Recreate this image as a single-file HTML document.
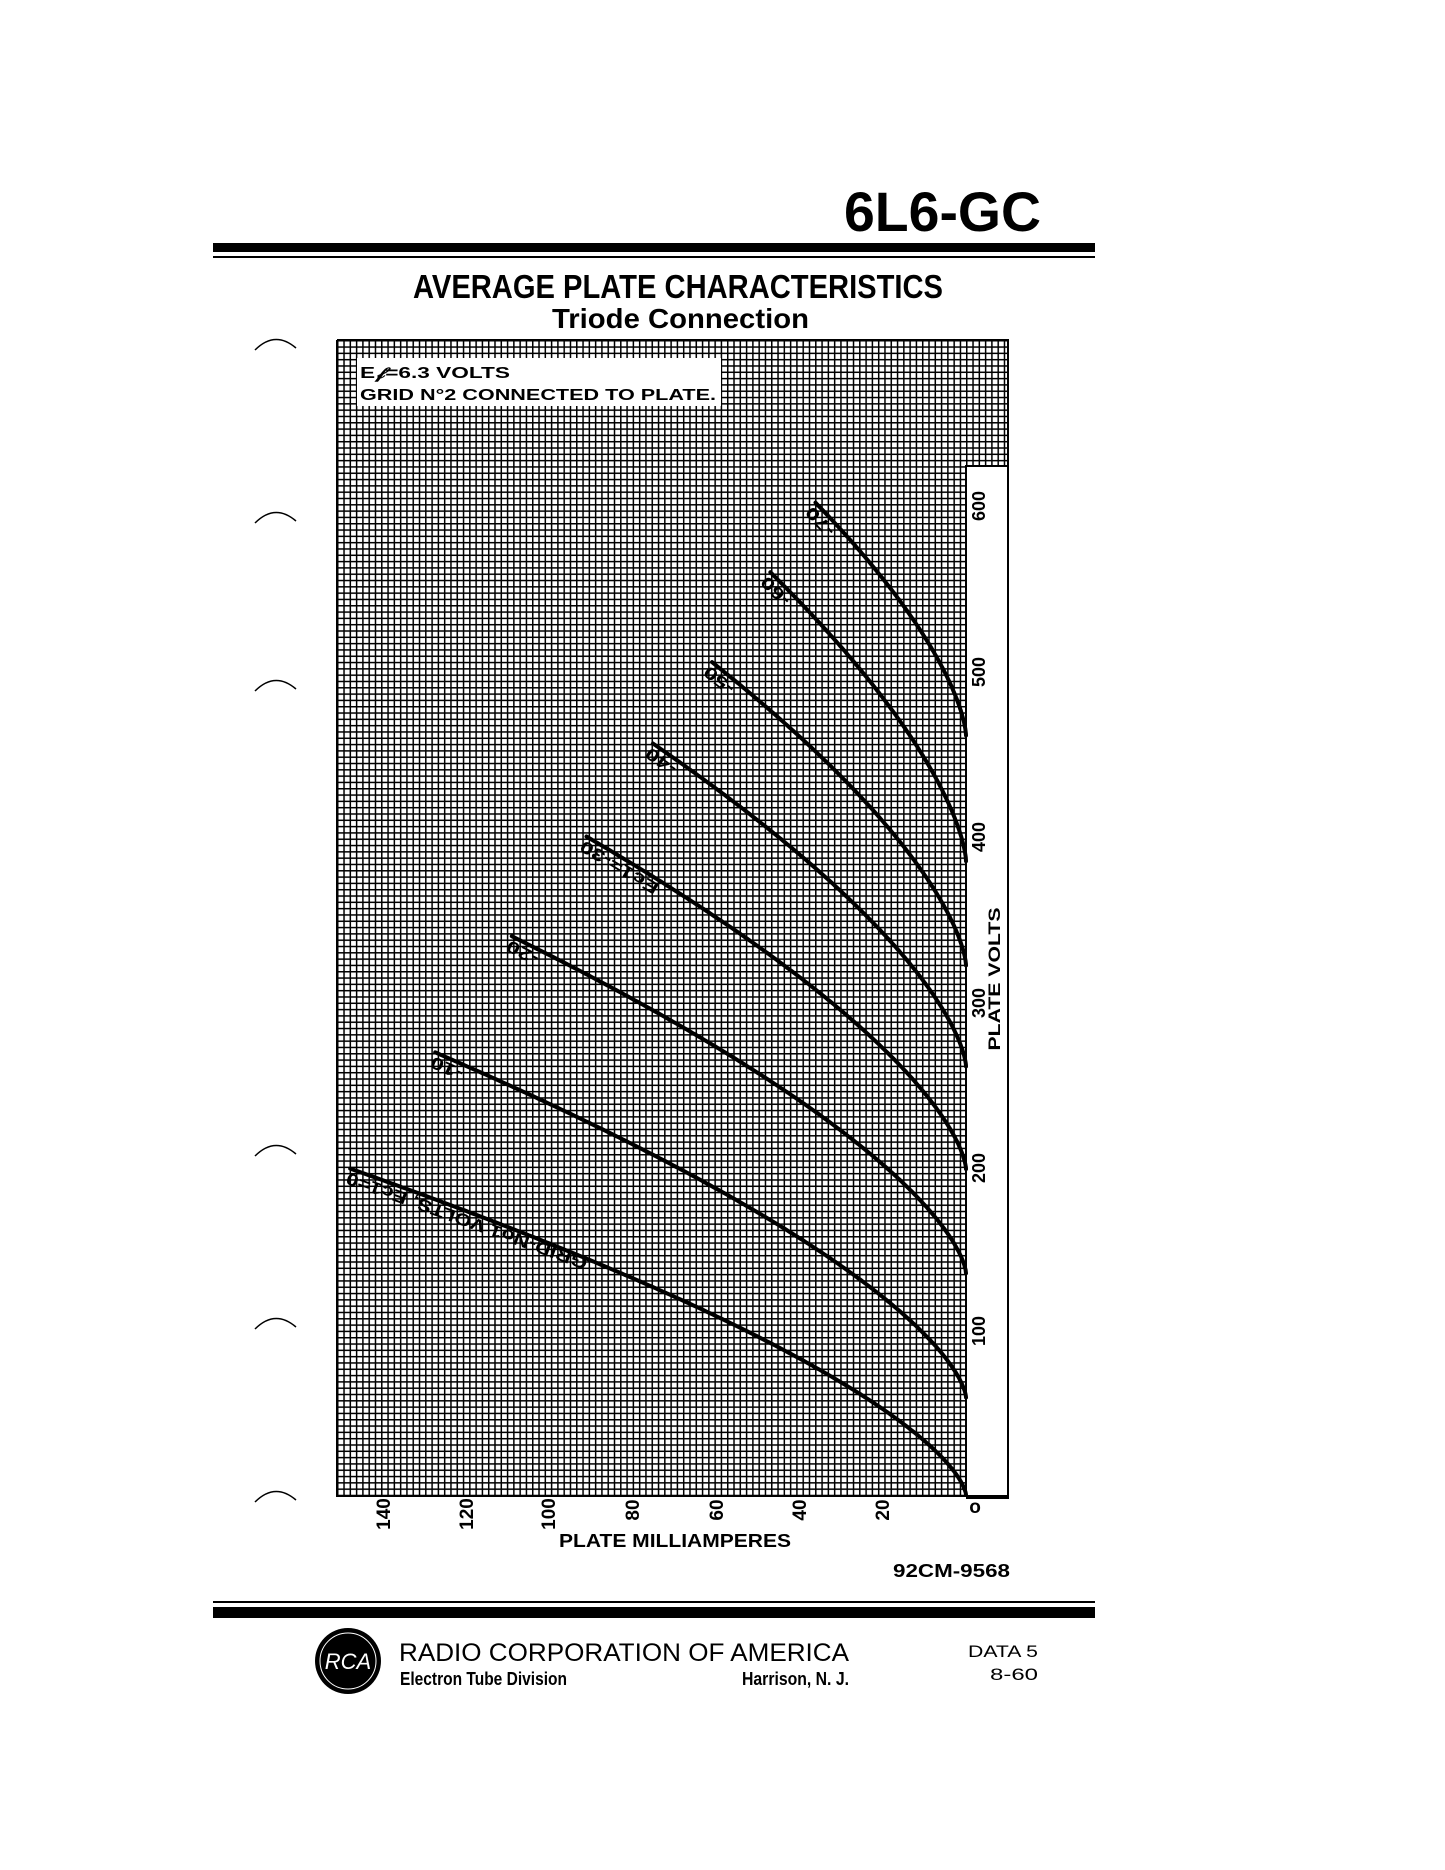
<!DOCTYPE html>
<html><head><meta charset="utf-8"><style>
html,body{margin:0;padding:0;background:#fff}
svg{display:block}
text{font-family:"Liberation Sans",sans-serif;fill:#000}
</style></head><body>
<svg id="s" width="1445" height="1870" viewBox="0 0 1445 1870" xmlns="http://www.w3.org/2000/svg">
<defs>
<pattern id="g" x="337" y="340" width="6.29" height="6.31" patternUnits="userSpaceOnUse">
<rect width="6.29" height="6.31" fill="#fff"/>
<rect x="0" y="0" width="1.5" height="6.31" fill="#000"/>
<rect x="0" y="0" width="6.29" height="1.5" fill="#000"/>
</pattern>
</defs>
<text x="844" y="231" font-size="56" font-weight="bold" textLength="197" lengthAdjust="spacingAndGlyphs">6L6-GC</text>
<rect x="213" y="243" width="882" height="9" fill="#000"/>
<rect x="213" y="256" width="882" height="2" fill="#000"/>
<text x="413" y="298" font-size="33" font-weight="bold" textLength="530" lengthAdjust="spacingAndGlyphs">AVERAGE PLATE CHARACTERISTICS</text>
<text x="552" y="328" font-size="28" font-weight="bold" textLength="257" lengthAdjust="spacingAndGlyphs">Triode Connection</text>
<g fill="none" stroke="#000" stroke-width="1.5">
<path d="M255,350 Q275,330 296,348"/>
<path d="M255,523 Q275,503 296,521"/>
<path d="M255,691 Q275,671 296,689"/>
<path d="M255,1156 Q275,1136 296,1154"/>
<path d="M255,1329 Q275,1309 296,1327"/>
<path d="M255,1502 Q275,1482 296,1500"/>
</g>
<rect x="337" y="340" width="671" height="126" fill="url(#g)"/>
<rect x="337" y="466" width="629" height="1029" fill="url(#g)"/>
<path d="M337,340 H1008 V1498 H966 M337,340 V1496 H966 V466 H1008" fill="none" stroke="#000" stroke-width="2"/>
<rect x="966" y="466" width="42" height="1030" fill="#fff" stroke="#000" stroke-width="2"/>
<rect x="357" y="358" width="364" height="48" fill="#fff"/>
<text x="360" y="378" font-size="16" font-weight="bold" textLength="150" lengthAdjust="spacingAndGlyphs">E𝒻=6.3 VOLTS</text>
<text x="360" y="400" font-size="16" font-weight="bold" textLength="356" lengthAdjust="spacingAndGlyphs">GRID  N°2 CONNECTED TO PLATE.</text>
<g id="curves"></g>
<g font-size="18" font-weight="bold" text-anchor="middle">
<text transform="translate(985,1331) rotate(-90)">100</text>
<text transform="translate(985,1168) rotate(-90)">200</text>
<text transform="translate(985,1003) rotate(-90)">300</text>
<text transform="translate(985,837) rotate(-90)">400</text>
<text transform="translate(985,672) rotate(-90)">500</text>
<text transform="translate(985,506) rotate(-90)">600</text>
<text transform="translate(1000,979) rotate(-90)" font-size="17" textLength="143" lengthAdjust="spacingAndGlyphs">PLATE VOLTS</text>
</g>
<g font-size="19" font-weight="bold" text-anchor="middle">
<text transform="translate(390,1514) rotate(-90)">140</text>
<text transform="translate(473,1514) rotate(-90)">120</text>
<text transform="translate(555,1514) rotate(-90)">100</text>
<text transform="translate(639,1510) rotate(-90)">80</text>
<text transform="translate(723,1510) rotate(-90)">60</text>
<text transform="translate(806,1510) rotate(-90)">40</text>
<text transform="translate(889,1510) rotate(-90)">20</text>
<text x="975" y="1513">o</text>
</g>
<text x="559" y="1547" font-size="18" font-weight="bold" textLength="232" lengthAdjust="spacingAndGlyphs">PLATE  MILLIAMPERES</text>
<text x="893" y="1577" font-size="18" font-weight="bold" textLength="117" lengthAdjust="spacingAndGlyphs">92CM-9568</text>
<rect x="213" y="1601" width="882" height="2" fill="#000"/>
<rect x="213" y="1607" width="882" height="11" fill="#000"/>
<circle cx="348" cy="1661" r="33" fill="#000"/>
<circle cx="348" cy="1661" r="28" fill="none" stroke="#fff" stroke-width="1"/>
<text x="348" y="1669" font-size="22" font-family="Liberation Serif" font-style="italic" text-anchor="middle" style="fill:#fff">RCA</text>
<text x="399" y="1661" font-size="25" textLength="450" lengthAdjust="spacingAndGlyphs">RADIO  CORPORATION  OF  AMERICA</text>
<text x="400" y="1685" font-size="18" font-weight="bold" textLength="167" lengthAdjust="spacingAndGlyphs">Electron Tube Division</text>
<text x="742" y="1685" font-size="18" font-weight="bold" textLength="107" lengthAdjust="spacingAndGlyphs">Harrison, N. J.</text>
<text x="968" y="1657" font-size="17" textLength="70" lengthAdjust="spacingAndGlyphs">DATA 5</text>
<text x="990" y="1680" font-size="17" textLength="48" lengthAdjust="spacingAndGlyphs">8-60</text>
</svg>
<script>
(function(){
var X=function(I){return 966-4.18*I}, Y=function(V){return 1495-1.655*V};
var C=[[0,0.0532,196,"GRID-No1 VOLTS, Ec1=0",255],[59,0.0422,266,"-10",34],[134,0.0374,336,"-20",34],
[197,0.0319,396,"Ec1=-30",88],[259,0.0275,452,"-40",34],[320,0.0245,501,"-50",34],[383,0.0203,555,"-60",34],[459,0.0216,597,"-70",34]];
var g=document.getElementById('curves'),h="";
C.forEach(function(c){
 var V0=c[0],k=c[1],Vm=c[2],d="";
 for(var V=Vm;V>=V0;V-=1){var I=k*Math.pow(V-V0,1.5);d+=(d?"L":"M")+X(I).toFixed(1)+","+Y(V).toFixed(1);}
 d+="L"+X(0)+","+Y(V0).toFixed(1);
 var sx=X(k*Math.pow(Vm-V0,1.5)),sy=Y(Vm);
 var I2=k*Math.pow(Vm-12-V0,1.5),ex=X(I2),ey=Y(Vm-12);
 var dx=ex-sx,dy=ey-sy,L=Math.sqrt(dx*dx+dy*dy),ux=dx/L,uy=dy/L;
 d="M"+(sx-ux*6).toFixed(1)+","+(sy-uy*6).toFixed(1)+"L"+d.substring(1);
 h+='<path d="'+d+'" fill="none" stroke="#000" stroke-width="4" stroke-linecap="round"/>';
 var a=Math.atan2(uy,ux)*180/Math.PI, dd=c[4]-6;
 var px=sx+ux*dd+(-uy)*4, py=sy+uy*dd+ux*4;
 h+='<text transform="translate('+px.toFixed(1)+','+py.toFixed(1)+') rotate('+(180+a).toFixed(1)+')" font-size="17" font-weight="bold" textLength="'+c[4]+'" lengthAdjust="spacingAndGlyphs">'+c[3]+'</text>';
});
g.innerHTML=h;
})();
</script>
</body></html>
